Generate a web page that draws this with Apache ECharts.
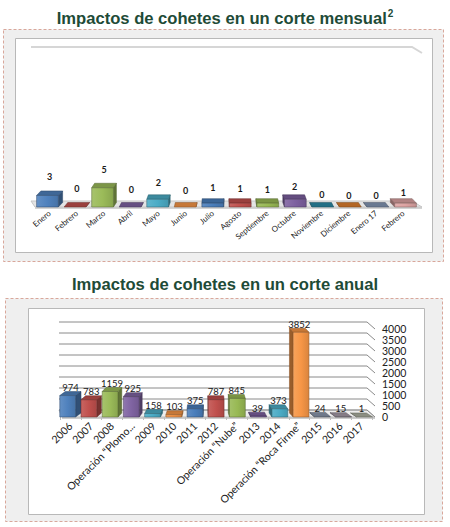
<!DOCTYPE html>
<html><head><meta charset="utf-8">
<script src="https://cdn.jsdelivr.net/npm/echarts@6/dist/echarts.min.js"></script>
<style>html,body{margin:0;padding:0;background:#fff}#c{width:450px;height:527px}</style>
</head><body><div id="c"></div>
<script>
// ---- data ----
const monthTitle = 'Impactos de cohetes en un corte mensual';
const monthCategories = ['Enero','Febrero','Marzo','Abril','Mayo','Junio','Julio','Agosto','Septiembre','Octubre','Noviembre','Diciembre','Enero 17','Febrero'];
const monthValues = [3,0,5,0,2,0,1,1,1,2,0,0,0,1];
const monthColors = ['#4F81BD','#C0504D','#9BBB59','#8064A2','#4BACC6','#F79646','#4A7EBB','#C0504D','#98B954','#7D60A0','#2C8BA6','#E07F2E','#8497B5','#DDA3A2'];
const monthLevels = [0, 40];

const yearTitle = 'Impactos de cohetes en un corte anual';
const yearCategories = ['2006','2007','2008','Operación “Plomo...','2009','2010','2011','2012','Operación “Nube”','2013','2014','Operación “Roca Firme”','2015','2016','2017'];
const yearValues = [974,783,1159,925,158,103,375,787,845,39,373,3852,24,15,1];
const yearColors = ['#4F81BD','#C0504D','#9BBB59','#8064A2','#4BACC6','#F79646','#4A7EBB','#C0504D','#98B954','#7D60A0','#4BACC6','#F79646','#8C98AE','#A69BA8','#AEB2A2'];
const yearTicks = [0,500,1000,1500,2000,2500,3000,3500,4000];

// ---- helpers ----
function shade(hex, f) {
  const n = parseInt(hex.slice(1), 16);
  const r = n >> 16 & 255, g = n >> 8 & 255, b = n & 255;
  const a = c => f < 0 ? Math.round(c * (1 + f)) : Math.round(c + (255 - c) * f);
  return 'rgb(' + a(r) + ',' + a(g) + ',' + a(b) + ')';
}

function bar3D(colors, cfg) {
  return function (params, api) {
    const i = params.dataIndex;
    const cat = api.value(0), v = api.value(1);
    const pt = api.coord([cat, v]);
    const pb = api.coord([cat, 0]);
    const band = api.size([1, 0])[0];
    const w = band * cfg.ratio;
    const cs = params.coordSys;
    const vp = cs.x + cs.width * cfg.vp;
    const dx = cfg.persp * (vp - pt[0]);
    const dy = -cfg.depth;
    const xc = pt[0] - dx / 2;
    const x0 = xc - w / 2, x1 = xc + w / 2, yt = pt[1], yb = pb[1];
    const c = colors[i % colors.length];
    const stroke = shade(c, -0.45);
    const sx = dx > 0 ? x1 : x0;
    const ch = [];
    ch.push({type: 'polygon', shape: {points: [[sx, yt], [sx + dx, yt + dy], [sx + dx, yb + dy], [sx, yb]]},
      style: {fill: shade(c, -0.38), stroke: stroke, lineWidth: 0.5}});
    ch.push({type: 'polygon', shape: {points: [[x0, yt], [x1, yt], [x1 + dx, yt + dy], [x0 + dx, yt + dy]]},
      style: {fill: shade(c, -0.2), stroke: stroke, lineWidth: 0.5}});
    if (yb - yt > 0.2) {
      ch.push({type: 'rect', shape: {x: x0, y: yt, width: w, height: yb - yt},
        style: {fill: new echarts.graphic.LinearGradient(0, 0, 1, 0, [
          {offset: 0, color: shade(c, 0.12)}, {offset: 0.5, color: c}, {offset: 1, color: shade(c, -0.12)}]),
          stroke: stroke, lineWidth: 0.5}});
    }
    const ld = cfg.labelDist + cfg.labelSlope * (vp - pt[0]);
    ch.push({type: 'text', x: xc + dx / 2, y: yt + dy - ld,
      style: {text: String(v), fill: '#1a1a1a', fontFamily: 'Lato', fontSize: cfg.fontSize, fontWeight: cfg.fontWeight,
        align: 'center', verticalAlign: 'middle', textAlign: 'center', textVerticalAlign: 'middle'}});
    return {type: 'group', children: ch};
  };
}

function walls(cfg) {
  return function (params, api) {
    const v = api.value(1);
    const y = api.coord([0, v])[1];
    const cs = params.coordSys;
    const L = cs.x, R = cs.x + cs.width;
    const ch = [];
    if (v === 0) {
      ch.push({type: 'polygon', shape: {points: [[L + cfg.fl, y], [R + cfg.fr, y], [R + cfg.br, y + cfg.by], [L + cfg.bl, y + cfg.by]]},
        style: {fill: cfg.floorFill, stroke: cfg.floorStroke, lineWidth: 1}});
      ch.push({type: 'line', shape: {x1: L + cfg.fl, y1: y + 1, x2: R + cfg.fr, y2: y + 1}, style: {stroke: cfg.floorStroke, lineWidth: 1.5}});
    }
    if (v !== 0 || cfg.zeroLine) {
      ch.push({type: 'polyline', shape: {points: [[L + cfg.bl, y + cfg.by], [R + cfg.br, y + cfg.by], [R + cfg.fr, y]]},
        style: {stroke: cfg.color, lineWidth: cfg.width, fill: null}});
    }
    return {type: 'group', children: ch};
  };
}

const chart = echarts.init(document.getElementById('c'), null, {renderer: 'svg'});
const titleColor = '#1E4B37';
chart.setOption({
  animation: false,
  backgroundColor: '#ffffff',
  title: [
    {text: '{t|' + monthTitle + '}{s|2}', left: 'center', top: 3,
      textStyle: {rich: {
        t: {fontFamily: 'Liberation Sans', fontWeight: 'bold', fontSize: 16.6, color: titleColor, lineHeight: 20},
        s: {fontFamily: 'Liberation Sans', fontWeight: 'bold', fontSize: 10, color: titleColor, lineHeight: 20, verticalAlign: 'top', padding: [0, 0, 0, 1]}}}},
    {text: yearTitle, left: 'center', top: 271,
      textStyle: {fontFamily: 'Liberation Sans', fontWeight: 'bold', fontSize: 16.6, color: titleColor}}
  ],
  graphic: [
    {type: 'rect', z: -10, shape: {x: 3.5, y: 29.5, width: 440, height: 232}, style: {fill: '#efefef', stroke: '#d8a79b', lineWidth: 1, lineDash: [3, 2]}},
    {type: 'rect', z: -9, shape: {x: 15.5, y: 38.5, width: 417, height: 214}, style: {fill: '#ffffff', stroke: '#b8b8b8', lineWidth: 1}},
    {type: 'rect', z: -10, shape: {x: 5.5, y: 298.5, width: 437, height: 223}, style: {fill: '#efefef', stroke: '#d8a79b', lineWidth: 1, lineDash: [3, 2]}},
    {type: 'rect', z: -9, shape: {x: 28.5, y: 308.5, width: 396, height: 206}, style: {fill: '#ffffff', stroke: '#b8b8b8', lineWidth: 1}}
  ],
  grid: [
    {left: 36, top: 53, width: 381, height: 154},
    {left: 60, top: 329, width: 312, height: 88}
  ],
  xAxis: [
    {gridIndex: 0, type: 'category', data: monthCategories, axisLine: {show: false}, axisTick: {show: false},
      axisLabel: {rotate: 40, fontSize: 8, fontFamily: 'Lato', color: '#222', margin: 5, interval: 0}},
    {gridIndex: 1, type: 'category', data: yearCategories, axisLine: {show: false},
      axisTick: {show: true, length: 3, lineStyle: {color: '#bfbfbf'}},
      axisLabel: {rotate: 45, fontSize: 10.5, fontFamily: 'Lato', color: '#222', margin: 7, interval: 0}}
  ],
  yAxis: [
    {gridIndex: 0, type: 'value', min: 0, max: 40, show: false},
    {gridIndex: 1, type: 'value', position: 'right', min: 0, max: 4000, interval: 500,
      axisLine: {show: false}, axisTick: {show: false}, splitLine: {show: false},
      axisLabel: {fontSize: 10.5, lineHeight: 11, fontFamily: 'Lato', color: '#222', margin: 10,
        showMinLabel: true, showMaxLabel: true, hideOverlap: false, formatter: v => String(v)}}
  ],
  series: [
    {type: 'custom', xAxisIndex: 0, yAxisIndex: 0, z: 1, silent: true,
      data: monthLevels.map(v => [0, v]),
      renderItem: walls({fl: -1, fr: 5, bl: -5, br: -5, by: -6, color: '#d6d6d6', width: 2, zeroLine: false,
        floorFill: '#e4e4e4', floorStroke: '#c6c6c6'})},
    {type: 'custom', xAxisIndex: 0, yAxisIndex: 0, z: 2,
      data: monthValues.map((v, i) => [i, v]),
      renderItem: bar3D(monthColors, {ratio: 0.8, vp: 0.5, persp: 0.024, depth: 4.5, labelDist: 10.5, labelSlope: 0.025, fontSize: 9, fontWeight: 'bold'})},
    {type: 'custom', xAxisIndex: 1, yAxisIndex: 1, z: 1, silent: true,
      data: yearTicks.map(v => [0, v]),
      renderItem: walls({fl: 2, fr: 3, bl: -1, br: -5, by: -7, color: '#8a8a8a', width: 1, zeroLine: true,
        floorFill: '#eeeeee', floorStroke: '#bdbdbd'})},
    {type: 'custom', xAxisIndex: 1, yAxisIndex: 1, z: 2,
      data: yearValues.map((v, i) => [i, v]),
      renderItem: bar3D(yearColors, {ratio: 0.76, vp: 0.47, persp: 0.04, depth: 4, labelDist: 4, labelSlope: 0, fontSize: 9.5, fontWeight: 'normal'})}
  ]
});
</script>
</body></html>
